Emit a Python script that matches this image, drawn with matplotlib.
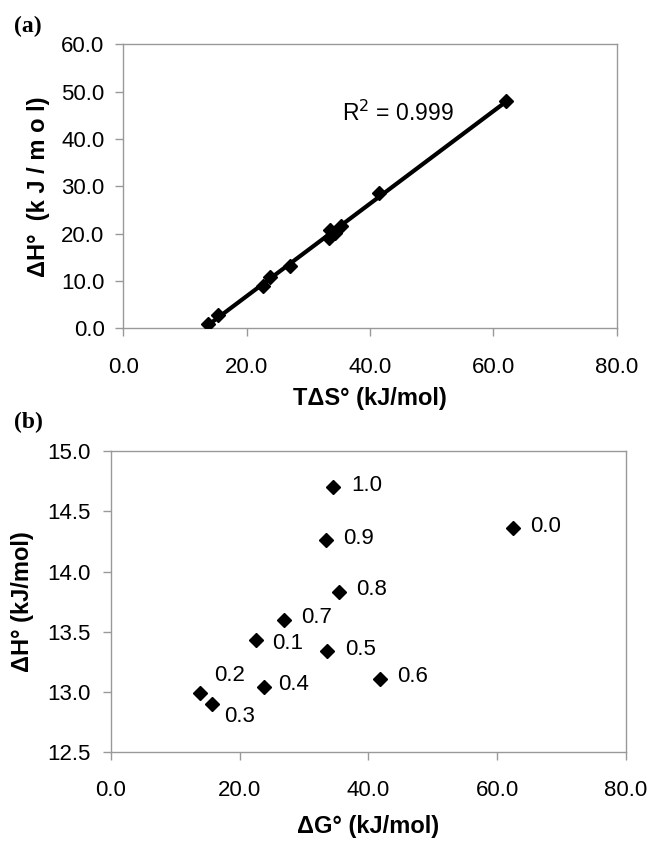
import numpy as np
from matplotlib import pyplot as plt

# panel (a): T*dS vs dH
tds = [13.8, 15.4, 22.7, 23.8, 27.0, 33.4, 33.6, 34.4, 35.3, 41.5, 62.1]
dh_a = [0.9, 2.8, 8.9, 10.9, 13.2, 19.0, 20.8, 20.1, 21.6, 28.6, 48.0]

# panel (b): dG vs dH with composition labels
dg = [62.4, 22.6, 13.9, 15.7, 23.8, 33.6, 41.75, 26.9, 35.4, 33.4, 34.55]
dh_b = [14.36, 13.43, 12.99, 12.90, 13.04, 13.34, 13.11, 13.60, 13.83, 14.26, 14.70]
comp = ["0.0", "0.1", "0.2", "0.3", "0.4", "0.5", "0.6", "0.7", "0.8", "0.9", "1.0"]

# label offsets (points) for panel (b)
offsets = {"0.1": (11, -2), "0.2": (10, 13), "0.3": (9, -9), "0.4": (10, 2)}

plt.rcParams["font.family"] = ["Liberation Sans", "DejaVu Sans"]

fig = plt.figure(figsize=(6.54, 8.42), dpi=100)
gray = "#999999"


def style(ax, xlim, ylim, xticks, yticks, xpad, ypad):
    ax.set_xlim(*xlim)
    ax.set_ylim(*ylim)
    ax.set_xticks(xticks)
    ax.set_yticks(yticks)
    ax.set_xticklabels(["{:.1f}".format(v) for v in xticks])
    ax.set_yticklabels(["{:.1f}".format(v) for v in yticks])
    for s in ax.spines.values():
        s.set_color(gray)
        s.set_linewidth(1.0)
    ax.tick_params(axis="both", direction="out", length=5.5, width=1.0,
                   color=gray, labelsize=16)
    ax.tick_params(axis="x", pad=xpad)
    ax.tick_params(axis="y", pad=ypad)


# (a)
ax1 = fig.add_axes([0.1885, 0.6101, 0.7544, 0.3373])
ax1.plot(tds, dh_a, "D", color="black", markersize=7.5, zorder=3)
fit = np.polyfit(tds, dh_a, 1)
xs = np.array([min(tds), max(tds)])
ax1.plot(xs, np.polyval(fit, xs), color="black", linewidth=3, zorder=2)
ax1.text(35.4, 45.5, r"R$^2$ = 0.999", fontsize=16.5, ha="left", va="center")
style(ax1, (0, 80), (0, 60), [0, 20, 40, 60, 80], [0, 10, 20, 30, 40, 50, 60], 15, 8)
ax1.set_xlabel("TΔS° (kJ/mol)", fontsize=17, fontweight="bold", labelpad=7)
ax1.set_ylabel("ΔH°  (k J / m o l)", fontsize=17, fontweight="bold", labelpad=8)
fig.text(0.043, 0.969, "(a)", fontsize=17, fontweight="bold",
         family=["Liberation Serif", "DejaVu Serif"], ha="center", va="center")

# (b)
ax2 = fig.add_axes([0.1697, 0.1065, 0.7875, 0.3578])
ax2.plot(dg, dh_b, "D", color="black", markersize=7.5, zorder=3)
for x, y, c in zip(dg, dh_b, comp):
    dx, dy = offsets.get(c, (12.5, 1.5))
    ax2.annotate(c, (x, y), xytext=(dx, dy), textcoords="offset points",
                 fontsize=16, va="center")
style(ax2, (0, 80), (12.5, 15.0), [0, 20, 40, 60, 80],
      [12.5, 13.0, 13.5, 14.0, 14.5, 15.0], 14.5, 9.5)
ax2.set_xlabel("ΔG° (kJ/mol)", fontsize=17, fontweight="bold", labelpad=10)
ax2.set_ylabel("ΔH° (kJ/mol)", fontsize=17, fontweight="bold", labelpad=9)
fig.text(0.043, 0.498, "(b)", fontsize=17, fontweight="bold",
         family=["Liberation Serif", "DejaVu Serif"], ha="center", va="center")

fig.savefig("out.png", dpi=100)
